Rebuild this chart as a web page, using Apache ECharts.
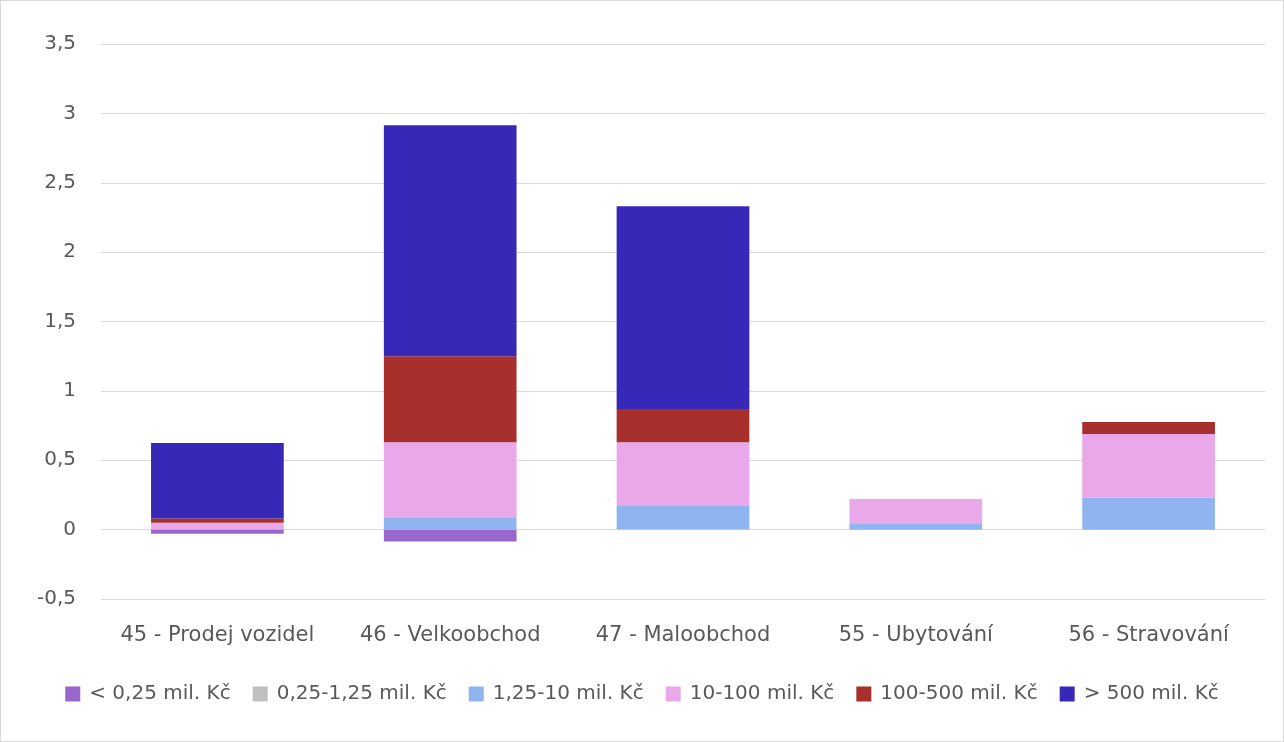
<!DOCTYPE html>
<html>
<head>
<meta charset="utf-8">
<script src="https://cdn.jsdelivr.net/npm/echarts@6/dist/echarts.min.js"></script>
<style>
html,body{margin:0;padding:0;background:#fff}
#chart{width:1284px;height:742px;box-sizing:border-box;border:1px solid #d9d9d9}
</style>
</head>
<body>
<div id="chart"></div>
<script>
var categories = ['45 - Prodej vozidel', '46 - Velkoobchod', '47 - Maloobchod', '55 - Ubytování', '56 - Stravování'];
var names = ['< 0,25 mil. Kč', '0,25-1,25 mil. Kč', '1,25-10 mil. Kč', '10-100 mil. Kč', '100-500 mil. Kč', '> 500 mil. Kč'];
var colors = ['#9966cc', '#bfbfbf', '#8fb4f0', '#e8a8ea', '#a8302c', '#3828b8'];
var below025 = [-0.03, -0.085, 0, 0, 0];
var from025 = [0, 0, 0.005, 0, 0];
var from125 = [0.005, 0.09, 0.165, 0.04, 0.23];
var from10 = [0.045, 0.54, 0.46, 0.18, 0.46];
var from100 = [0.03, 0.62, 0.24, 0, 0.085];
var above500 = [0.545, 1.665, 1.46, 0, 0];
var values = [below025, from025, from125, from10, from100, above500];

var chart = echarts.init(document.getElementById('chart'));
chart.setOption({
  textStyle: {fontFamily: 'DejaVu Sans, sans-serif'},
  grid: {left: 100, right: 18, top: 43, bottom: 142},
  legend: {
    bottom: 32, left: 'center', itemWidth: 15, itemHeight: 15, itemGap: 22,
    icon: 'rect',
    textStyle: {fontSize: 20, color: '#595959', padding: [0, 0, 0, 4]}
  },
  xAxis: {
    type: 'category', data: categories,
    axisLine: {show: false}, axisTick: {show: false},
    axisLabel: {fontSize: 21, color: '#595959', margin: 26, interval: 0}
  },
  yAxis: {
    type: 'value', min: -0.5, max: 3.5, interval: 0.5,
    axisLabel: {fontSize: 20, color: '#595959', margin: 25,
      formatter: function (v) { return String(v).replace('.', ','); }},
    splitLine: {lineStyle: {color: '#d9d9d9', width: 1}}
  },
  series: names.map(function (n, i) {
    return {
      name: n, type: 'bar', stack: 'total', barWidth: '57%',
      itemStyle: {color: colors[i]},
      data: values[i]
    };
  })
});
</script>
</body>
</html>
